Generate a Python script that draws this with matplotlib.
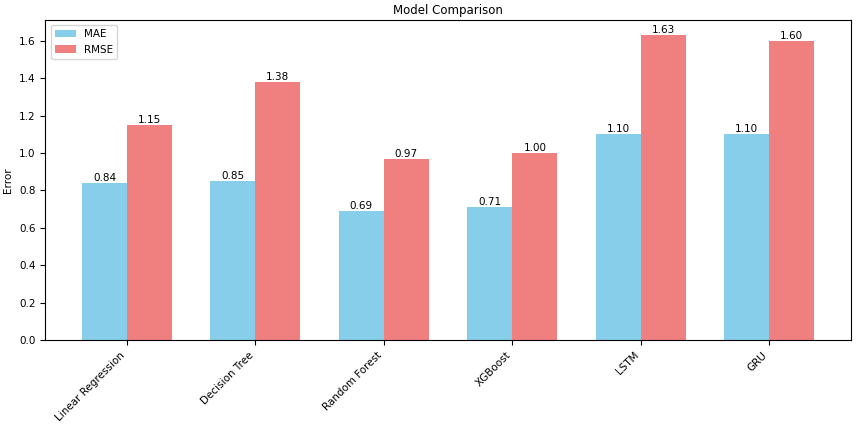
import numpy as np
import matplotlib.pyplot as plt

models = ['Linear Regression', 'Decision Tree', 'Random Forest', 'XGBoost', 'LSTM', 'GRU']
mae = [0.84, 0.85, 0.69, 0.71, 1.10, 1.10]
rmse = [1.15, 1.38, 0.97, 1.00, 1.63, 1.60]

x = np.arange(len(models))
width = 0.35

fig, ax = plt.subplots(figsize=(8.56, 4.24), dpi=100)
b1 = ax.bar(x - width / 2, mae, width, label='MAE', color='skyblue')
b2 = ax.bar(x + width / 2, rmse, width, label='RMSE', color='lightcoral')

# value labels on top of bars
for bars in (b1, b2):
    for b in bars:
        h = b.get_height()
        ax.text(b.get_x() + b.get_width() / 2, h, f'{h:.2f}',
                ha='center', va='bottom', fontsize=7.5)

ax.set_title('Model Comparison', fontsize=8.5, pad=4)
ax.set_ylabel('Error', fontsize=7.5)
ax.set_xticks(x)
ax.set_xticklabels(models, rotation=45, ha='right', fontsize=7.5)
ax.tick_params(axis='y', labelsize=7.5)
ax.legend(fontsize=7.5, loc='upper left')

plt.subplots_adjust(left=0.053, right=0.994, top=0.953, bottom=0.198)
plt.savefig('out.png')
